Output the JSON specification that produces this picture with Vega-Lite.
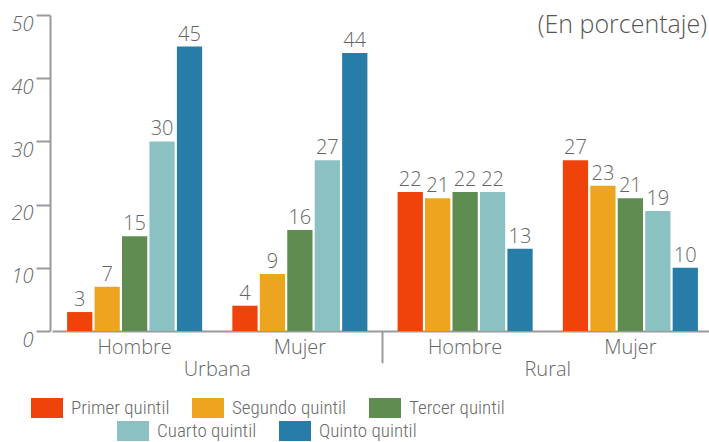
{
  "$schema": "https://vega.github.io/schema/vega-lite/v6.json",
  "width": 659,
  "height": 316,
  "autosize": {"type": "none"},
  "padding": {"left": 50, "top": 15, "right": 0, "bottom": 111},
  "background": "white",
  "config": {
    "view": {"stroke": null},
    "font": "Open Sans",
    "legend": {"padding": 0}
  },
  "title": {
    "text": "(En porcentaje)",
    "anchor": "end",
    "frame": "group",
    "orient": "top",
    "fontSize": 25,
    "font": "Open Sans",
    "fontWeight": 300,
    "color": "#555555",
    "baseline": "alphabetic",
    "offset": -44,
    "dx": -2
  },
  "datasets": {
    "barras": [
      {"grupo": "Urbana Hombre", "quintil": "Primer quintil", "valor": 3},
      {"grupo": "Urbana Hombre", "quintil": "Segundo quintil", "valor": 7},
      {"grupo": "Urbana Hombre", "quintil": "Tercer quintil", "valor": 15},
      {"grupo": "Urbana Hombre", "quintil": "Cuarto quintil", "valor": 30},
      {"grupo": "Urbana Hombre", "quintil": "Quinto quintil", "valor": 45},
      {"grupo": "Urbana Mujer", "quintil": "Primer quintil", "valor": 4},
      {"grupo": "Urbana Mujer", "quintil": "Segundo quintil", "valor": 9},
      {"grupo": "Urbana Mujer", "quintil": "Tercer quintil", "valor": 16},
      {"grupo": "Urbana Mujer", "quintil": "Cuarto quintil", "valor": 27},
      {"grupo": "Urbana Mujer", "quintil": "Quinto quintil", "valor": 44},
      {"grupo": "Rural Hombre", "quintil": "Primer quintil", "valor": 22},
      {"grupo": "Rural Hombre", "quintil": "Segundo quintil", "valor": 21},
      {"grupo": "Rural Hombre", "quintil": "Tercer quintil", "valor": 22},
      {"grupo": "Rural Hombre", "quintil": "Cuarto quintil", "valor": 22},
      {"grupo": "Rural Hombre", "quintil": "Quinto quintil", "valor": 13},
      {"grupo": "Rural Mujer", "quintil": "Primer quintil", "valor": 27},
      {"grupo": "Rural Mujer", "quintil": "Segundo quintil", "valor": 23},
      {"grupo": "Rural Mujer", "quintil": "Tercer quintil", "valor": 21},
      {"grupo": "Rural Mujer", "quintil": "Cuarto quintil", "valor": 19},
      {"grupo": "Rural Mujer", "quintil": "Quinto quintil", "valor": 10}
    ],
    "areas": [
      {"grupo": "Urbana Mujer", "area": "Urbana"},
      {"grupo": "Rural Mujer", "area": "Rural"}
    ],
    "divisor": [
      {"grupo": "Rural Hombre"}
    ]
  },
  "layer": [
    {
      "data": {"name": "barras"},
      "transform": [{"filter": {"field": "quintil", "oneOf": ["Primer quintil", "Segundo quintil", "Tercer quintil"]}}],
      "mark": {"type": "bar"},
      "encoding": {
        "x": {
          "field": "grupo", "type": "nominal",
          "scale": {"domain": ["Urbana Hombre", "Urbana Mujer", "Rural Hombre", "Rural Mujer"], "range": [2, 663], "paddingInner": 0, "paddingOuter": 0},
          "axis": {
            "title": null, "labelAngle": 0, "ticks": false,
            "labelExpr": "split(datum.value, ' ')[1]",
            "labelFontSize": 20, "labelFont": "Open Sans", "labelFontWeight": 300, "labelColor": "#666666",
            "labelPadding": 6, "labelBaseline": "top",
            "domainColor": "#9a9a9e", "domainWidth": 2
          }
        },
        "xOffset": {
          "field": "quintil", "type": "nominal",
          "scale": {"domain": ["Primer quintil", "Segundo quintil", "Tercer quintil", "Cuarto quintil", "Quinto quintil"], "paddingInner": 0.08, "paddingOuter": 0.55}
        },
        "y": {
          "field": "valor", "type": "quantitative",
          "scale": {"domain": [0, 50], "nice": false, "zero": true},
          "axis": {
            "title": null, "values": [0, 10, 20, 30, 40, 50], "grid": false,
            "tickSize": 14, "tickWidth": 2, "tickColor": "#9a9a9e",
            "domainColor": "#9a9a9e", "domainWidth": 2,
            "labelFontSize": 20, "labelFont": "Open Sans", "labelFontWeight": 300, "labelFontStyle": "italic",
            "labelColor": "#666666", "labelPadding": 3, "labelOffset": 9, "labelBaseline": "middle"
          }
        },
        "color": {
          "field": "quintil", "type": "nominal",
          "scale": {"domain": ["Primer quintil", "Segundo quintil", "Tercer quintil"], "range": ["#ef430b", "#eda41f", "#5e8c51"]},
          "legend": {
            "title": null, "orient": "none", "legendX": -19, "legendY": 377, "direction": "horizontal",
            "symbolType": "M-1,-0.625 h2 v1.25 h-2 z", "symbolSize": 1024, "symbolStrokeWidth": 0, "symbolOpacity": 1,
            "labelFontSize": 19, "labelFont": "Liberation Sans Narrow, Roboto Condensed, Roboto", "labelFontWeight": 300, "labelColor": "#6a6a6a",
            "labelOffset": 8, "columnPadding": 22, "labelLimit": 300
          }
        }
      }
    },
    {
      "data": {"name": "barras"},
      "transform": [{"filter": {"field": "quintil", "oneOf": ["Cuarto quintil", "Quinto quintil"]}}],
      "mark": {"type": "bar"},
      "encoding": {
        "x": {"field": "grupo", "type": "nominal"},
        "xOffset": {"field": "quintil", "type": "nominal"},
        "y": {"field": "valor", "type": "quantitative"},
        "fill": {
          "field": "quintil", "type": "nominal",
          "scale": {"domain": ["Cuarto quintil", "Quinto quintil"], "range": ["#8bc1c3", "#277da7"]},
          "legend": {
            "title": null, "orient": "none", "legendX": 67, "legendY": 400, "direction": "horizontal",
            "symbolType": "M-1,-0.625 h2 v1.25 h-2 z", "symbolSize": 1024, "symbolStrokeWidth": 0, "symbolOpacity": 1,
            "labelFontSize": 19, "labelFont": "Liberation Sans Narrow, Roboto Condensed, Roboto", "labelFontWeight": 300, "labelColor": "#6a6a6a",
            "labelOffset": 8, "columnPadding": 22, "labelLimit": 300
          }
        }
      }
    },
    {
      "data": {"name": "barras"},
      "mark": {"type": "text", "baseline": "alphabetic", "dy": -6, "fontSize": 20, "font": "Open Sans", "fontWeight": 300, "color": "#666666"},
      "encoding": {
        "x": {"field": "grupo", "type": "nominal"},
        "xOffset": {"field": "quintil", "type": "nominal"},
        "y": {"field": "valor", "type": "quantitative"},
        "text": {"field": "valor", "type": "quantitative"}
      }
    },
    {
      "data": {"name": "divisor"},
      "mark": {"type": "rule", "color": "#9a9a9e", "strokeWidth": 2},
      "encoding": {
        "x": {"field": "grupo", "type": "nominal", "bandPosition": 0},
        "y": {"datum": 0, "type": "quantitative"},
        "y2": {"datum": -5.1}
      }
    },
    {
      "data": {"name": "areas"},
      "mark": {"type": "text", "baseline": "middle", "dy": 39, "fontSize": 20, "font": "Open Sans", "fontWeight": 300, "color": "#666666"},
      "encoding": {
        "x": {"field": "grupo", "type": "nominal", "bandPosition": 0},
        "y": {"datum": 0, "type": "quantitative"},
        "text": {"field": "area", "type": "nominal"}
      }
    }
  ]
}
